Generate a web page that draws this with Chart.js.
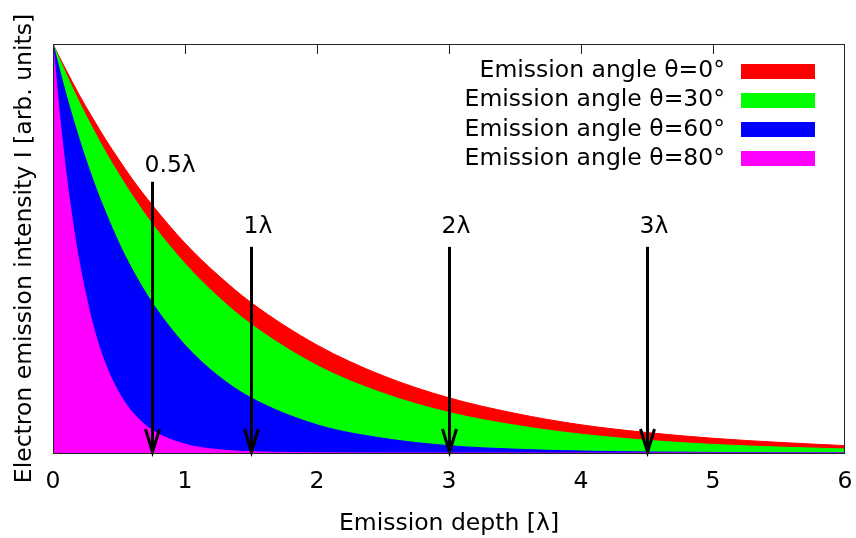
<!DOCTYPE html>
<html lang="en">
<head>
    <meta charset="UTF-8">
    <title>Electron emission intensity vs emission depth</title>
    <script src="https://cdn.jsdelivr.net/npm/chart.js@4.4.0/dist/chart.umd.min.js"></script>
    <style>
        html, body { margin: 0; padding: 0; background: #fff; }
        #wrap { position: relative; width: 856px; height: 538px; }
    </style>
</head>
<body>
    <div id="wrap"><canvas id="depthChart"></canvas></div>

    <script>
        // Emission depth samples (x) and intensity for each emission angle
        const depths  = [0, 0.05, 0.1, 0.15, 0.2, 0.3, 0.4, 0.5, 0.6, 0.75, 1, 1.25, 1.5, 2, 2.5, 3, 3.5, 4, 4.5, 5, 5.5, 6];
        const theta0  = [1, 0.967, 0.936, 0.905, 0.875, 0.819, 0.766, 0.717, 0.670, 0.607, 0.513, 0.435, 0.368, 0.264, 0.189, 0.135, 0.097, 0.069, 0.050, 0.036, 0.026, 0.018];
        const theta30 = [1, 0.962, 0.926, 0.891, 0.857, 0.794, 0.735, 0.681, 0.630, 0.561, 0.463, 0.382, 0.315, 0.214, 0.146, 0.099, 0.068, 0.046, 0.031, 0.021, 0.0145, 0.0099];
        const theta60 = [1, 0.936, 0.875, 0.819, 0.766, 0.670, 0.587, 0.513, 0.449, 0.368, 0.264, 0.189, 0.135, 0.069, 0.036, 0.018, 0.0094, 0.0048, 0.0025, 0.0013, 0.0007, 0.0003];
        const theta80 = [1, 0.825, 0.681, 0.562, 0.464, 0.316, 0.215, 0.147, 0.100, 0.056, 0.0215, 0.0082, 0.0032, 0.0005, 0.0001, 0, 0, 0, 0, 0, 0, 0];

        const seriesNames  = ['Emission angle θ=0°', 'Emission angle θ=30°', 'Emission angle θ=60°', 'Emission angle θ=80°'];
        const seriesValues = [theta0, theta30, theta60, theta80];
        const seriesColors = ['#ff0000', '#00ff00', '#0000ff', '#ff00ff'];

        // Depth markers (arrows): x position, start height, label and label height
        const arrowDepths  = [0.75, 1.5, 3, 4.5];
        const arrowStarts  = [0.663, 0.504, 0.504, 0.504];
        const arrowLabels  = ['0.5λ', '1λ', '2λ', '3λ'];
        const arrowLabelAt = [0.702, 0.553, 0.553, 0.553];

        const xTicks = [0, 1, 2, 3, 4, 5, 6];
        const FONT = '"DejaVu Sans", sans-serif';
        const FSIZE = 23.5;

        const datasets = seriesValues.map((vals, k) => ({
            label: seriesNames[k],
            data: depths.map((x, i) => ({ x: x, y: vals[i] })),
            backgroundColor: seriesColors[k],
            borderColor: seriesColors[k],
            borderWidth: 1,
            pointRadius: 0,
            fill: 'origin',
            cubicInterpolationMode: 'monotone',
            order: seriesValues.length - k   // wider curves go in the back
        }));

        // frame, top tics, arrows and key, drawn over the filled curves
        const overlay = {
            id: 'overlay',
            afterDatasetsDraw(chart) {
                const { ctx, chartArea: a, scales: { x, y } } = chart;
                ctx.save();

                // arrows
                ctx.strokeStyle = '#000';
                ctx.fillStyle = '#000';
                ctx.lineWidth = 3;
                ctx.lineCap = 'butt';
                ctx.font = FSIZE + 'px ' + FONT;
                ctx.textAlign = 'left';
                ctx.textBaseline = 'middle';
                arrowDepths.forEach((d, i) => {
                    const px = Math.round(x.getPixelForValue(d)) + 0.5;
                    const top = y.getPixelForValue(arrowStarts[i]);
                    const tip = y.getPixelForValue(0);
                    ctx.beginPath();
                    ctx.moveTo(px, top);
                    ctx.lineTo(px, tip - 2);
                    ctx.stroke();
                    ctx.beginPath();
                    ctx.moveTo(px - 7, tip - 24);
                    ctx.lineTo(px, tip - 1);
                    ctx.lineTo(px + 7, tip - 24);
                    ctx.stroke();
                    ctx.fillText(arrowLabels[i], px - 8, y.getPixelForValue(arrowLabelAt[i]));
                });

                // frame
                ctx.lineWidth = 1;
                ctx.strokeStyle = '#222';
                ctx.strokeRect(a.left + 0.5, a.top + 0.5, a.right - a.left - 1, a.bottom - a.top);

                // inward tics on the top border
                ctx.beginPath();
                xTicks.slice(1, -1).forEach(t => {
                    const px = Math.round(x.getPixelForValue(t)) + 0.5;
                    ctx.moveTo(px, a.top);
                    ctx.lineTo(px, a.top + 10);
                });
                ctx.stroke();

                // key: right aligned text with a colour swatch
                ctx.font = FSIZE + 'px ' + FONT;
                ctx.textAlign = 'right';
                ctx.textBaseline = 'middle';
                seriesNames.forEach((name, k) => {
                    const cy = 71 + k * 29.3;
                    ctx.fillStyle = '#000';
                    ctx.fillText(name, 725, cy);
                    ctx.fillStyle = seriesColors[k];
                    ctx.fillRect(741, Math.round(cy - 7.5), 74, 15);
                });

                ctx.restore();
            }
        };

        const ctx = document.getElementById('depthChart').getContext('2d');
        new Chart(ctx, {
            type: 'line',
            data: { datasets: datasets },
            plugins: [overlay],
            options: {
                responsive: true,
                maintainAspectRatio: false,
                devicePixelRatio: 1,
                animation: false,
                layout: { padding: { top: 44, right: 11, left: 0, bottom: 0 } },
                plugins: {
                    legend: { display: false },
                    tooltip: { enabled: false }
                },
                scales: {
                    x: {
                        type: 'linear',
                        min: 0,
                        max: 6,
                        afterFit: s => { s.height = 85; s.paddingLeft = 0; s.paddingRight = 0; },
                        afterBuildTicks: s => { s.ticks = xTicks.map(v => ({ value: v })); },
                        grid: { display: false, drawTicks: false },
                        border: { display: false },
                        ticks: { color: '#000', font: { family: FONT, size: FSIZE }, padding: 15, maxRotation: 0 },
                        title: {
                            display: true,
                            text: 'Emission depth [λ]',
                            color: '#000',
                            font: { family: FONT, size: FSIZE },
                            padding: { top: 0, bottom: 0 }
                        }
                    },
                    y: {
                        min: 0,
                        max: 1,
                        afterFit: s => { s.width = 53; },
                        grid: { display: false, drawTicks: false },
                        border: { display: false },
                        ticks: { display: false },
                        title: {
                            display: true,
                            text: 'Electron emission intensity I [arb. units]',
                            color: '#000',
                            font: { family: FONT, size: FSIZE },
                            padding: { top: 11, bottom: 0 }
                        }
                    }
                }
            }
        });
    </script>
</body>
</html>
